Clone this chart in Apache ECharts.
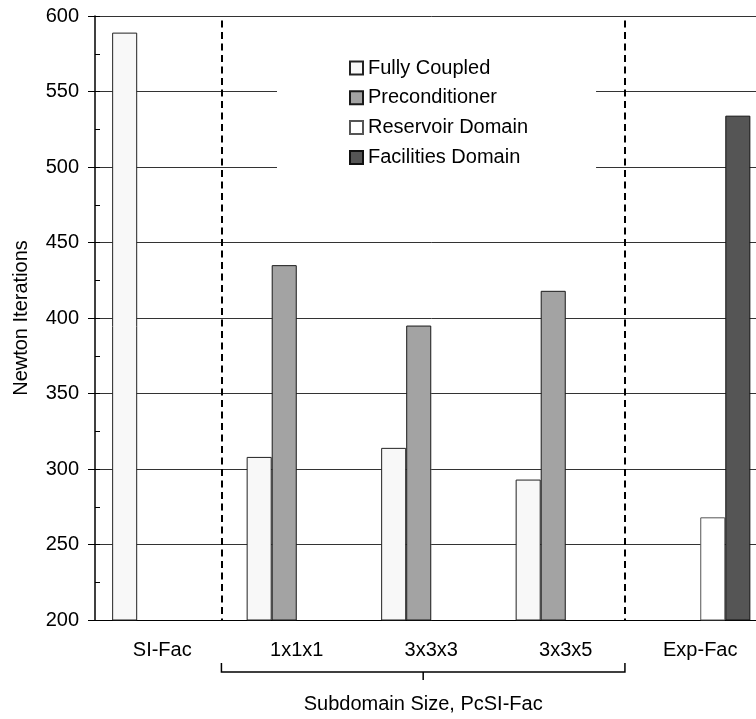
<!DOCTYPE html>
<html>
<head>
<meta charset="utf-8">
<script src="https://cdn.jsdelivr.net/npm/echarts@6/dist/echarts.min.js"></script>
<style>
  html, body { margin: 0; padding: 0; background: #fff; overflow: hidden; width: 756px; height: 719px; }
  /* plot frame runs past the right edge of the page, so the canvas is wider than the view */
  #chart { width: 780px; height: 719px; }
</style>
</head>
<body>
<div id="chart"></div>
<script>
// Newton iteration counts per solver configuration
const categories = ['SI-Fac', '1x1x1', '3x3x3', '3x3x5', 'Exp-Fac'];
const seriesNames = ['Fully Coupled', 'Preconditioner', 'Reservoir Domain', 'Facilities Domain'];
const fullyCoupled = [589, 308, 314, 293, null];
const preconditioner = [null, 435, 395, 418, null];
const reservoirDomain = [null, null, null, null, 268];
const facilitiesDomain = [null, null, null, null, 534];
const yTicks = { min: 200, max: 600, step: 50, minorStep: 25 };
// group separators on a band-indexed helper axis (category i spans [i, i+1])
const separators = [0.94, 3.94];
const groupTitle = 'Subdomain Size, PcSI-Fac';

const FONT = "'Liberation Sans', Arial, Helvetica, sans-serif";
const fills = ['#f8f8f8', '#a3a3a3', '#ffffff', '#555555'];
const borders = ['#222222', '#1a1a1a', '#555555', '#111111'];
const values = [fullyCoupled, preconditioner, reservoirDomain, facilitiesDomain];

const chart = echarts.init(document.getElementById('chart'), null, { renderer: 'canvas' });

const barSeries = seriesNames.map((name, i) => ({
  name: name,
  type: 'bar',
  xAxisIndex: 0,
  yAxisIndex: 0,
  data: values[i],
  barGap: '0%',
  barCategoryGap: '25.5%',
  itemStyle: { color: fills[i], borderColor: borders[i], borderWidth: 1 },
  emphasis: { disabled: true },
  animation: false
}));

const option = {
  animation: false,
  textStyle: { fontFamily: FONT },
  grid: { left: 95, top: 16, width: 672.5, height: 604, containLabel: false },
  legend: {
    data: seriesNames,
    orient: 'vertical',
    left: 277,
    top: 41,
    padding: [17, 68, 18, 72],
    backgroundColor: '#ffffff',
    itemWidth: 13,
    itemHeight: 13,
    itemGap: 9.8,
    icon: 'rect',
    selectedMode: false,
    textStyle: { fontFamily: FONT, fontSize: 20, color: '#000', lineHeight: 20 }
  },
  xAxis: [
    {
      type: 'category',
      data: categories,
      axisLine: { show: true, lineStyle: { color: '#000', width: 1 } },
      axisTick: { show: false },
      axisLabel: { color: '#000', fontSize: 20, fontFamily: FONT, margin: 20 },
      splitLine: { show: false }
    },
    {
      type: 'value',
      min: 0,
      max: categories.length,
      show: false
    }
  ],
  yAxis: [
    {
      type: 'value',
      min: yTicks.min,
      max: yTicks.max,
      interval: yTicks.step,
      name: 'Newton Iterations',
      nameLocation: 'middle',
      nameGap: 64,
      nameTextStyle: { color: '#000', fontSize: 20, fontFamily: FONT },
      axisLine: { show: true, lineStyle: { color: '#000', width: 1.5 } },
      axisTick: { show: true, length: 7, lineStyle: { color: '#000' } },
      axisLabel: { color: '#000', fontSize: 20, fontFamily: FONT, margin: 16 },
      splitLine: { show: true, lineStyle: { color: '#333', width: 1 } }
    },
    {
      type: 'value',
      min: yTicks.min,
      max: yTicks.max,
      interval: yTicks.minorStep,
      position: 'left',
      axisLine: { show: false },
      axisTick: { show: true, inside: true, length: 5, lineStyle: { color: '#000' } },
      axisLabel: { show: false },
      splitLine: { show: false }
    }
  ],
  series: barSeries.concat([{
    name: 'separators',
    type: 'line',
    xAxisIndex: 1,
    yAxisIndex: 0,
    data: [],
    silent: true,
    markLine: {
      silent: true,
      symbol: ['none', 'none'],
      label: { show: false },
      lineStyle: { color: '#000', width: 2, type: [7, 4.5] },
      data: separators.map(x => [{ coord: [x, 597] }, { coord: [x, yTicks.min] }])
    }
  }])
};

chart.setOption(option);

// bracket under the grouped subdomain categories, with its caption
const xl = chart.convertToPixel({ xAxisIndex: 1 }, separators[0]);
const xr = chart.convertToPixel({ xAxisIndex: 1 }, separators[1]);
const yb = chart.convertToPixel({ yAxisIndex: 0 }, yTicks.min);
const xm = (xl + xr) / 2;
const yBar = yb + 52;

chart.setOption({
  graphic: [
    {
      type: 'polyline',
      shape: { points: [[xl, yBar - 9], [xl, yBar], [xr, yBar], [xr, yBar - 9]] },
      style: { stroke: '#000', lineWidth: 1.5, fill: null },
      silent: true
    },
    {
      type: 'line',
      shape: { x1: xm, y1: yBar, x2: xm, y2: yBar + 8 },
      style: { stroke: '#000', lineWidth: 1.5 },
      silent: true
    },
    {
      type: 'text',
      x: xm,
      y: yBar + 32,
      style: {
        text: groupTitle,
        fill: '#000',
        font: '20px ' + FONT,
        textAlign: 'center',
        textVerticalAlign: 'middle'
      },
      silent: true
    }
  ]
});
</script>
</body>
</html>
